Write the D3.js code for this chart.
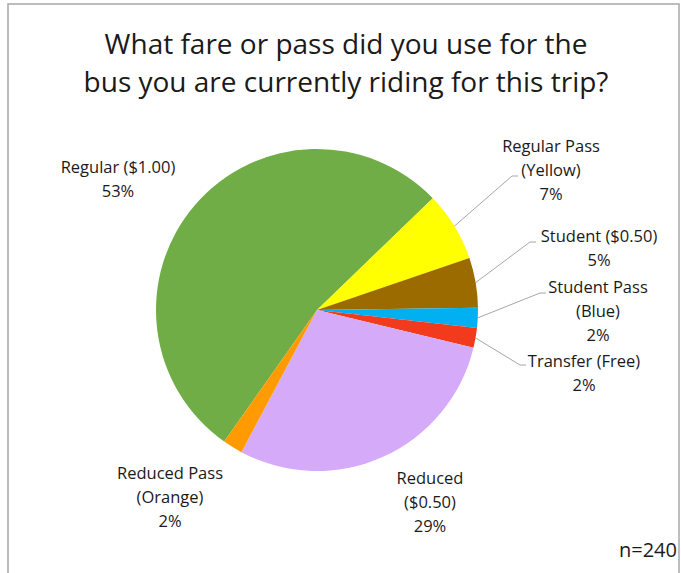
<!DOCTYPE html>
<html>
<head>
<meta charset="utf-8">
<script src="https://cdn.jsdelivr.net/npm/d3@7"></script>
<style>
  html, body { margin: 0; padding: 0; background: #fff; }
  svg text { font-family: "Open Sans", Lato, sans-serif; fill: #1a1a1a; }
</style>
</head>
<body>
<svg id="chart" width="681" height="573"></svg>
<script>
// Fare types, their shares (%), and slice colours
const categories = [
  "Regular ($1.00)",
  "Regular Pass (Yellow)",
  "Student ($0.50)",
  "Student Pass (Blue)",
  "Transfer (Free)",
  "Reduced ($0.50)",
  "Reduced Pass (Orange)"
];
const shares = [53, 7, 5, 2, 2, 29, 2];
const colors = ["#70ad47", "#ffff00", "#9c6b00", "#00b0f0", "#f23b1c", "#d5abf9", "#ff9a00"];

// Label text broken into lines
const labelLines = [
  ["Regular ($1.00)", "53%"],
  ["Regular Pass", "(Yellow)", "7%"],
  ["Student ($0.50)", "5%"],
  ["Student Pass", "(Blue)", "2%"],
  ["Transfer (Free)", "2%"],
  ["Reduced", "($0.50)", "29%"],
  ["Reduced Pass", "(Orange)", "2%"]
];
const titleLines = ["What fare or pass did you use for the", "bus you are currently riding for this trip?"];
const sampleNote = "n=240";

// Layout
const W = 681, H = 573;
const cx = 317, cy = 310, R = 161;
const firstSliceAngle = -144.8; // degrees, clockwise from 12 o'clock
const lineGap = 24;
// label anchor (centre x, first baseline y) and leader elbow per slice; null = no leader
const labelLayout = [
  { x: 118, y: 173, leader: null },
  { x: 551, y: 152, leader: [[512, 176], [518, 176]] },
  { x: 599, y: 242, leader: [[530, 242], [536, 242]] },
  { x: 598, y: 293, leader: [[540, 293], [546, 293]] },
  { x: 584, y: 367, leader: [[520, 365], [526, 365]] },
  { x: 430, y: 484, leader: null },
  { x: 170, y: 479, leader: null }
];

const svg = d3.select("#chart");

// frame
svg.append("rect")
  .attr("x", 8).attr("y", 4)
  .attr("width", 671).attr("height", H + 10)
  .attr("fill", "#fff")
  .attr("stroke", "#a8a8a8")
  .attr("stroke-width", 1.5);

// title
svg.append("text")
  .attr("text-anchor", "middle")
  .attr("font-size", 28)
  .selectAll("tspan")
  .data(titleLines)
  .join("tspan")
  .attr("x", 346)
  .attr("y", (d, i) => 54 + i * 38)
  .text(d => d);

const rad = Math.PI / 180;
const pie = d3.pie()
  .sort(null)
  .value(d => d)
  .startAngle(firstSliceAngle * rad)
  .endAngle(firstSliceAngle * rad + 2 * Math.PI);

const arcs = pie(shares);
const arc = d3.arc().innerRadius(0).outerRadius(R);

const g = svg.append("g").attr("transform", `translate(${cx},${cy})`);

g.selectAll("path.slice")
  .data(arcs)
  .join("path")
  .attr("class", "slice")
  .attr("d", arc)
  .attr("fill", (d, i) => colors[i]);

// leader lines from slice edge midpoint to the label
const leaderPts = arcs.map((d, i) => {
  const lay = labelLayout[i];
  if (!lay.leader) return null;
  const a = (d.startAngle + d.endAngle) / 2;
  const start = [cx + R * Math.sin(a), cy - R * Math.cos(a)];
  return [start, ...lay.leader];
}).filter(p => p);

svg.selectAll("path.leader")
  .data(leaderPts)
  .join("path")
  .attr("class", "leader")
  .attr("d", d3.line())
  .attr("fill", "none")
  .attr("stroke", "#a6a6a6")
  .attr("stroke-width", 1);

// data labels
const labels = svg.selectAll("text.lbl")
  .data(categories)
  .join("text")
  .attr("class", "lbl")
  .attr("text-anchor", "middle")
  .attr("font-size", 16.5);

labels.selectAll("tspan")
  .data((d, i) => labelLines[i].map(t => ({ t, i })))
  .join("tspan")
  .attr("x", d => labelLayout[d.i].x)
  .attr("y", (d, j) => labelLayout[d.i].y + j * lineGap)
  .text(d => d.t);

// sample size note
svg.append("text")
  .attr("x", 677).attr("y", 557)
  .attr("text-anchor", "end")
  .attr("font-size", 20)
  .text(sampleNote);
</script>
</body>
</html>
